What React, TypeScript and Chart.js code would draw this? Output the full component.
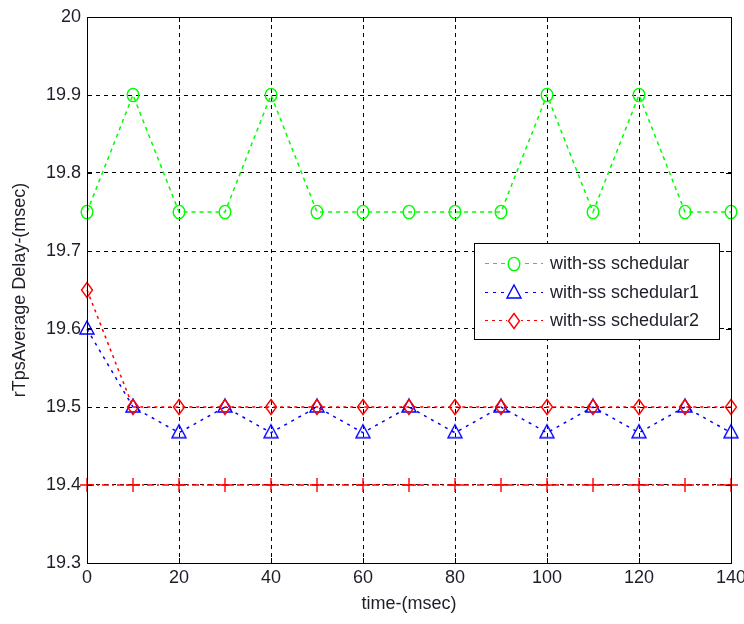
import { useEffect, useRef } from 'react';
import { Chart, registerables } from 'chart.js';

Chart.register(...registerables);

// Sample times (ms) and the average rTps delay (ms) measured for each run.
const timeMs = [0, 10, 20, 30, 40, 50, 60, 70, 80, 90, 100, 110, 120, 130, 140];
const schedularDelay = [19.75, 19.9, 19.75, 19.75, 19.9, 19.75, 19.75, 19.75, 19.75, 19.75, 19.9, 19.75, 19.9, 19.75, 19.75];
const schedular1Delay = [19.6, 19.5, 19.467, 19.5, 19.467, 19.5, 19.467, 19.5, 19.467, 19.5, 19.467, 19.5, 19.467, 19.5, 19.467];
const schedular2Delay = [19.65, 19.5, 19.5, 19.5, 19.5, 19.5, 19.5, 19.5, 19.5, 19.5, 19.5, 19.5, 19.5, 19.5, 19.5];
const referenceDelay = [19.4, 19.4, 19.4, 19.4, 19.4, 19.4, 19.4, 19.4, 19.4, 19.4, 19.4, 19.4, 19.4, 19.4, 19.4];

const seriesLabels = ['with-ss schedular', 'with-ss schedular1', 'with-ss schedular2'];
const xTitle = 'time-(msec)';
const yTitle = 'rTpsAverage Delay-(msec)';
const xRange = [0, 140];
const yRange = [19.3, 20];

const FONT = '"Liberation Sans", Arial, Helvetica, sans-serif';
const TEXT = '#1e1e2a';

type MarkerKind = 'circle' | 'triangle' | 'diamond' | 'plus';

// Hollow MATLAB-style markers drawn onto small canvases.
function makeMarker(kind: MarkerKind, color: string): HTMLCanvasElement {
  const c = document.createElement('canvas');
  c.width = 22;
  c.height = 22;
  const g = c.getContext('2d')!;
  const cx = 11;
  const cy = 11;
  g.strokeStyle = color;
  g.lineWidth = 1.4;
  g.beginPath();
  if (kind === 'circle') {
    g.ellipse(cx, cy, 5.8, 6.6, 0, 0, Math.PI * 2);
  } else if (kind === 'triangle') {
    g.moveTo(cx, cy - 8);
    g.lineTo(cx + 7, cy + 5);
    g.lineTo(cx - 7, cy + 5);
    g.closePath();
  } else if (kind === 'diamond') {
    g.moveTo(cx, cy - 7.5);
    g.lineTo(cx + 5.5, cy);
    g.lineTo(cx, cy + 7.5);
    g.lineTo(cx - 5.5, cy);
    g.closePath();
  } else {
    g.moveTo(cx - 7, cy);
    g.lineTo(cx + 7, cy);
    g.moveTo(cx, cy - 7);
    g.lineTo(cx, cy + 7);
  }
  g.stroke();
  return c;
}

// Solid box around the axes with short inward tick marks on all four sides,
// plus the legend box placed inside the plot area.
const axesBoxPlugin = {
  id: 'axesBox',
  afterDraw(chart: any) {
    const { ctx, chartArea: a, scales } = chart;
    ctx.save();
    ctx.setLineDash([]);
    ctx.strokeStyle = '#000';
    ctx.lineWidth = 1;
    ctx.strokeRect(Math.round(a.left) + 0.5, Math.round(a.top) + 0.5, Math.round(a.right - a.left), Math.round(a.bottom - a.top));
    const t = 5;
    ctx.beginPath();
    scales.x.ticks.forEach((tk: any) => {
      const px = Math.round(scales.x.getPixelForValue(tk.value)) + 0.5;
      ctx.moveTo(px, a.bottom);
      ctx.lineTo(px, a.bottom - t);
      ctx.moveTo(px, a.top);
      ctx.lineTo(px, a.top + t);
    });
    scales.y.ticks.forEach((tk: any) => {
      const py = Math.round(scales.y.getPixelForValue(tk.value)) + 0.5;
      ctx.moveTo(a.left, py);
      ctx.lineTo(a.left + t, py);
      ctx.moveTo(a.right, py);
      ctx.lineTo(a.right - t, py);
    });
    ctx.stroke();

    // Legend
    const entries = chart.data.datasets.filter((d: any) => d.label);
    const w = 245;
    const h = 96;
    const x0 = Math.round(a.right - 12 - w);
    const y0 = Math.round(a.top + 226);
    ctx.fillStyle = '#fff';
    ctx.fillRect(x0, y0, w, h);
    ctx.strokeStyle = '#000';
    ctx.lineWidth = 1;
    ctx.strokeRect(x0 + 0.5, y0 + 0.5, w, h);
    entries.forEach((ds: any, i: number) => {
      const cy = Math.round(y0 + 20 + i * 28.5) + 0.5;
      ctx.save();
      ctx.setLineDash(ds.borderDash || []);
      ctx.strokeStyle = ds.borderColor;
      ctx.lineWidth = 1.2;
      ctx.beginPath();
      ctx.moveTo(x0 + 11, cy);
      ctx.lineTo(x0 + 69, cy);
      ctx.stroke();
      ctx.restore();
      const img = ds.pointStyle as HTMLCanvasElement;
      ctx.fillStyle = '#fff';
      ctx.fillRect(x0 + 33, cy - 8, 14, 16);
      ctx.drawImage(img, x0 + 40 - img.width / 2, Math.round(cy) - img.height / 2);
      ctx.fillStyle = TEXT;
      ctx.font = `18px ${FONT}`;
      ctx.textAlign = 'left';
      ctx.textBaseline = 'middle';
      ctx.fillText(ds.label, x0 + 76, cy + 1);
    });
    ctx.restore();
  },
};

export default function App() {
  const canvasRef = useRef<HTMLCanvasElement | null>(null);

  useEffect(() => {
    document.body.style.margin = '0';
    const canvas = canvasRef.current;
    if (!canvas) return;

    const green = '#00ff00';
    const blue = '#0000ff';
    const red = '#ff0000';

    const toPoints = (ys: number[]) => timeMs.map((x, i) => ({ x, y: ys[i] }));

    const chart = new Chart(canvas, {
      type: 'line',
      data: {
        datasets: [
          {
            label: seriesLabels[0],
            data: toPoints(schedularDelay),
            borderColor: green,
            borderWidth: 1.5,
            borderDash: [4, 4],
            pointStyle: makeMarker('circle', green),
            clip: false,
            order: 4,
          },
          {
            label: seriesLabels[1],
            data: toPoints(schedular1Delay),
            borderColor: blue,
            borderWidth: 1.5,
            borderDash: [3, 5],
            pointStyle: makeMarker('triangle', blue),
            clip: false,
            order: 3,
          },
          {
            label: seriesLabels[2],
            data: toPoints(schedular2Delay),
            borderColor: red,
            borderWidth: 1.5,
            borderDash: [3, 4],
            pointStyle: makeMarker('diamond', red),
            clip: false,
            order: 2,
          },
          {
            label: '',
            data: toPoints(referenceDelay),
            borderColor: red,
            borderWidth: 1.5,
            borderDash: [7, 3, 2, 3],
            pointStyle: makeMarker('plus', red),
            clip: false,
            order: 1,
          },
        ] as any,
      },
      options: {
        animation: false,
        responsive: true,
        maintainAspectRatio: false,
        events: [],
        layout: { padding: { top: 17, right: 13, left: 0, bottom: 0 } },
        elements: {
          line: { tension: 0, fill: false },
          point: { radius: 7 },
        },
        plugins: {
          legend: { display: false },
          tooltip: { enabled: false },
        },
        scales: {
          x: {
            type: 'linear',
            min: xRange[0],
            max: xRange[1],
            ticks: {
              stepSize: 20,
              color: TEXT,
              font: { family: FONT, size: 18 },
              padding: 4,
              maxRotation: 0,
            },
            grid: { color: '#000', lineWidth: 1, drawTicks: false },
            border: { display: true, color: '#000', dash: [4, 4] },
            title: {
              display: true,
              text: xTitle,
              color: TEXT,
              font: { family: FONT, size: 18 },
              padding: { top: 0, bottom: 9 },
            },
            afterFit(scale: any) {
              scale.height = 61;
              scale.paddingLeft = 0;
              scale.paddingRight = 0;
            },
          },
          y: {
            type: 'linear',
            min: yRange[0],
            max: yRange[1],
            ticks: {
              stepSize: 0.1,
              color: TEXT,
              font: { family: FONT, size: 18 },
              padding: 6,
              callback: (v: any) => {
                const n = Number(v);
                return Math.abs(n - Math.round(n)) < 1e-6 ? String(Math.round(n)) : n.toFixed(1);
              },
            },
            grid: { color: '#000', lineWidth: 1, drawTicks: false },
            border: { display: true, color: '#000', dash: [4, 4] },
            title: {
              display: true,
              text: yTitle,
              color: TEXT,
              font: { family: FONT, size: 18 },
              padding: { top: 9, bottom: 0 },
            },
            afterFit(scale: any) {
              scale.width = 87;
            },
          },
        },
      },
      plugins: [axesBoxPlugin],
    });

    return () => chart.destroy();
  }, []);

  return (
    <div style={{ position: 'relative', width: 744, height: 624, background: '#fff' }}>
      <canvas ref={canvasRef} />
    </div>
  );
}
